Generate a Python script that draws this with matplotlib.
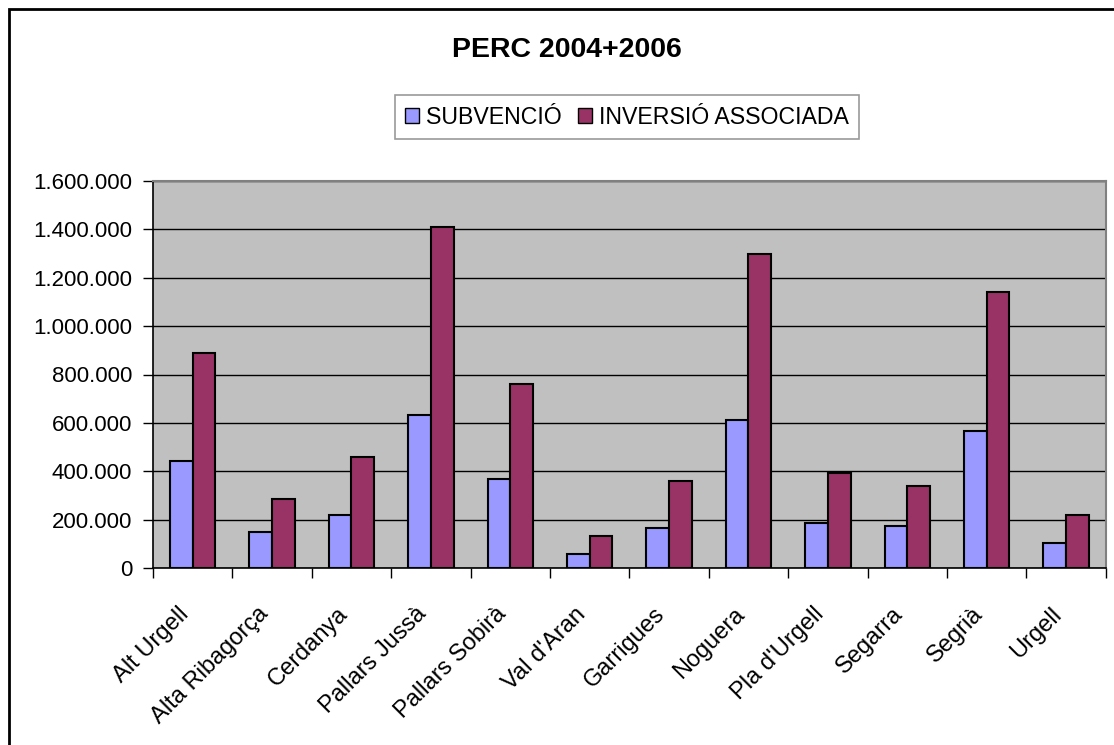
import matplotlib
matplotlib.use("Agg")
import matplotlib.pyplot as plt
import numpy as np
from matplotlib.patches import Patch, Rectangle
from matplotlib.ticker import FuncFormatter

plt.rcParams['font.family'] = ['Liberation Sans', 'DejaVu Sans']

comarques = ["Alt Urgell", "Alta Ribagorça", "Cerdanya", "Pallars Jussà",
             "Pallars Sobirà", "Val d'Aran", "Garrigues", "Noguera",
             "Pla d'Urgell", "Segarra", "Segrià", "Urgell"]
subvencio = [444000, 150000, 219000, 633000, 369000, 59000,
             165000, 611000, 187000, 173000, 565000, 106000]
inversio = [890000, 286000, 461000, 1410000, 762000, 135000,
            362000, 1299000, 392000, 341000, 1139000, 219000]
yticks = np.arange(0, 1600001, 200000)

C_SUB = '#9999FF'
C_INV = '#993366'


def miles(v, pos):
    return '{:,.0f}'.format(v).replace(',', '.')


def drawcanvas():
    W, H = 1114, 745
    fig = plt.figure(figsize=(W / 100, H / 100), dpi=100)
    ax = fig.add_axes([153 / W, 1 - 568.3 / H, (1105.7 - 153) / W, (568.3 - 180.7) / H])
    ax.set_facecolor('#C0C0C0')

    x = np.arange(len(comarques))
    w = 1 / 3.5
    ax.bar(x - w / 2, subvencio, w, color=C_SUB, edgecolor='black', lw=1.5, zorder=3)
    ax.bar(x + w / 2, inversio, w, color=C_INV, edgecolor='black', lw=1.5, zorder=3)

    ax.set_xlim(-0.5, len(comarques) - 0.5)
    ax.set_ylim(0, 1600000)
    ax.set_yticks(yticks)
    ax.yaxis.set_major_formatter(FuncFormatter(miles))
    ax.yaxis.grid(True, color='black', lw=1, zorder=1)
    ax.set_axisbelow(True)

    # ticks at category boundaries, labels placed by hand (excel style)
    ax.set_xticks(np.arange(len(comarques) + 1) - 0.5)
    ax.set_xticklabels([])
    ax.tick_params(axis='x', length=7, width=1, direction='out')
    ax.tick_params(axis='y', length=7, width=1, labelsize=16, pad=8)
    for i, nom in enumerate(comarques):
        ax.annotate(nom, xy=(i, 0), xycoords=('data', 'axes fraction'),
                    xytext=(-11, -25), textcoords='offset points',
                    rotation=45, ha='right', va='top', rotation_mode='anchor',
                    fontsize=17, annotation_clip=False)

    for s in ['top', 'right']:
        ax.spines[s].set_color('#808080')
        ax.spines[s].set_linewidth(1.5)
    for s in ['left', 'bottom']:
        ax.spines[s].set_color('black')
        ax.spines[s].set_linewidth(1.2)

    fig.text(567 / W, 1 - 50 / H, 'PERC 2004+2006', ha='center', va='center',
             fontsize=20.5, fontweight='bold')

    handles = [Patch(facecolor=C_SUB, edgecolor='black', lw=1),
               Patch(facecolor=C_INV, edgecolor='black', lw=1)]
    leg = fig.legend(handles, ['SUBVENCIÓ', 'INVERSIÓ ASSOCIADA'], ncol=2,
                     loc='center', bbox_to_anchor=(627 / W, 1 - 117 / H),
                     fontsize=16.7, frameon=True, fancybox=False, shadow=False,
                     handlelength=0.6, handleheight=0.6, handletextpad=0.3,
                     columnspacing=0.7, borderpad=0.45, borderaxespad=0)
    leg.get_frame().set_edgecolor('#808080')
    leg.get_frame().set_linewidth(1.2)

    # chart border
    fig.patches.append(Rectangle((9 / W, -0.05), 1.2, 1 - 9 / H + 0.05,
                                 transform=fig.transFigure, fill=False,
                                 edgecolor='black', lw=2))

    fig.savefig('out.png', dpi=100)


if __name__ == '__main__':
    drawcanvas()
